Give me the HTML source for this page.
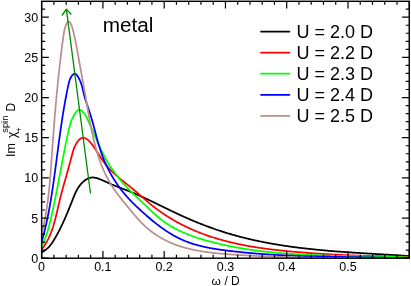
<!DOCTYPE html>
<html><head><meta charset="utf-8"><title>plot</title>
<style>
html,body{margin:0;padding:0;background:#fff;}
body{width:411px;height:286px;overflow:hidden;font-family:"Liberation Sans",sans-serif;}
svg{display:block;position:absolute;left:0;top:0;}
text{font-family:"Liberation Sans",sans-serif;fill:#000;}
</style></head><body>
<div style="position:absolute;left:0;top:0;width:411px;height:286px;will-change:transform;">
<svg width="411" height="286" viewBox="0 0 411 286">
<rect x="0" y="0" width="411" height="286" fill="#fff"/>

<defs><clipPath id="c"><rect x="41.65" y="1.3" width="367.6" height="256.9"/></clipPath></defs>
<g clip-path="url(#c)" fill="none" stroke-width="1.75" stroke-linejoin="round" stroke-linecap="butt">
<path d="M41.64,252.30 L42.36,251.95 L43.06,251.58 L43.74,251.19 L44.39,250.77 L45.03,250.34 L45.65,249.88 L46.25,249.41 L46.83,248.91 L47.39,248.40 L47.94,247.88 L48.48,247.34 L49.00,246.78 L49.51,246.21 L50.00,245.63 L50.48,245.03 L50.95,244.43 L51.41,243.81 L51.86,243.19 L52.30,242.55 L52.73,241.91 L53.15,241.26 L53.56,240.61 L53.97,239.95 L54.37,239.29 L54.77,238.62 L55.16,237.95 L55.55,237.28 L55.94,236.60 L56.32,235.93 L56.70,235.25 L57.07,234.58 L57.44,233.90 L57.81,233.22 L58.17,232.54 L58.54,231.85 L58.89,231.17 L59.25,230.48 L59.60,229.79 L59.95,229.11 L60.30,228.42 L60.64,227.72 L60.98,227.03 L61.32,226.34 L61.65,225.64 L61.98,224.95 L62.31,224.25 L62.64,223.55 L62.96,222.85 L63.29,222.15 L63.61,221.45 L63.92,220.75 L64.24,220.05 L64.55,219.34 L64.86,218.64 L65.17,217.93 L65.48,217.23 L65.79,216.52 L66.09,215.81 L66.39,215.11 L66.69,214.40 L66.99,213.69 L67.29,212.98 L67.58,212.27 L67.88,211.55 L68.17,210.84 L68.46,210.13 L68.75,209.42 L69.04,208.70 L69.33,207.99 L69.62,207.28 L69.90,206.56 L70.19,205.85 L70.47,205.13 L70.76,204.42 L71.04,203.70 L71.32,202.98 L71.60,202.27 L71.89,201.55 L72.17,200.84 L72.45,200.12 L72.73,199.40 L73.01,198.69 L73.29,197.97 L73.57,197.26 L73.86,196.55 L74.15,195.84 L74.45,195.13 L74.75,194.42 L75.06,193.72 L75.38,193.02 L75.71,192.32 L76.04,191.63 L76.39,190.95 L76.75,190.26 L77.12,189.59 L77.51,188.92 L77.90,188.25 L78.32,187.59 L78.75,186.94 L79.20,186.30 L79.66,185.66 L80.15,185.04 L80.65,184.42 L81.18,183.81 L81.72,183.21 L82.28,182.63 L82.86,182.07 L83.46,181.53 L84.07,181.01 L84.69,180.52 L85.33,180.05 L85.98,179.61 L86.65,179.21 L87.33,178.84 L88.01,178.52 L88.71,178.23 L89.42,177.98 L90.14,177.78 L90.86,177.62 L91.59,177.52 L92.33,177.47 L93.07,177.47 L93.82,177.52 L94.57,177.62 L95.32,177.77 L96.08,177.94 L96.83,178.15 L97.59,178.39 L98.34,178.65 L99.08,178.92 L99.82,179.21 L100.56,179.51 L101.29,179.80 L102.02,180.11 L102.74,180.42 L103.45,180.73 L104.16,181.04 L104.87,181.36 L105.58,181.67 L106.28,181.99 L106.99,182.31 L107.69,182.62 L108.39,182.94 L109.09,183.26 L109.79,183.57 L110.49,183.88 L111.20,184.18 L111.91,184.49 L112.62,184.78 L113.33,185.08 L114.04,185.37 L114.75,185.66 L115.47,185.95 L116.19,186.23 L116.90,186.52 L117.62,186.80 L118.34,187.08 L119.06,187.35 L119.78,187.63 L120.51,187.91 L121.23,188.18 L121.95,188.46 L122.67,188.74 L123.39,189.01 L124.12,189.29 L124.84,189.57 L125.56,189.84 L126.28,190.12 L127.00,190.40 L127.72,190.69 L128.43,190.97 L129.15,191.26 L129.87,191.55 L130.58,191.84 L131.29,192.13 L132.01,192.43 L132.72,192.73 L133.43,193.02 L134.14,193.33 L134.85,193.63 L135.55,193.93 L136.26,194.24 L136.97,194.55 L137.67,194.86 L138.38,195.17 L139.08,195.48 L139.78,195.79 L140.49,196.11 L141.19,196.43 L141.89,196.75 L142.59,197.07 L143.29,197.39 L143.99,197.71 L144.69,198.03 L145.38,198.36 L146.08,198.68 L146.78,199.01 L147.47,199.34 L148.17,199.66 L148.86,199.99 L149.56,200.32 L150.25,200.66 L150.95,200.99 L151.64,201.32 L152.34,201.65 L153.03,201.99 L153.72,202.32 L154.42,202.66 L155.11,202.99 L155.80,203.33 L156.49,203.66 L157.18,204.00 L157.88,204.34 L158.57,204.67 L159.26,205.01 L159.95,205.35 L160.64,205.69 L161.34,206.03 L162.03,206.36 L162.72,206.70 L163.41,207.04 L164.10,207.38 L164.80,207.71 L165.49,208.05 L166.18,208.39 L166.87,208.73 L167.57,209.06 L168.26,209.40 L168.95,209.73 L169.65,210.07 L170.34,210.41 L171.03,210.74 L171.73,211.07 L172.42,211.41 L173.12,211.74 L173.82,212.07 L174.51,212.40 L175.21,212.73 L175.91,213.06 L176.60,213.39 L177.30,213.72 L178.00,214.04 L178.70,214.37 L179.40,214.69 L180.10,215.02 L180.80,215.34 L181.51,215.66 L182.21,215.98 L182.91,216.30 L183.62,216.61 L184.32,216.93 L185.03,217.24 L185.73,217.56 L186.44,217.87 L187.15,218.18 L187.85,218.49 L188.56,218.80 L189.27,219.11 L189.98,219.41 L190.69,219.72 L191.40,220.02 L192.12,220.32 L192.83,220.62 L193.54,220.92 L194.25,221.22 L194.97,221.51 L195.68,221.81 L196.40,222.10 L197.11,222.40 L197.83,222.69 L198.55,222.98 L199.27,223.26 L199.98,223.55 L200.70,223.84 L201.42,224.12 L202.14,224.40 L202.86,224.68 L203.58,224.96 L204.30,225.24 L205.03,225.51 L205.75,225.79 L206.47,226.06 L207.20,226.33 L207.92,226.60 L208.64,226.87 L209.37,227.14 L210.09,227.40 L210.82,227.67 L211.55,227.93 L212.27,228.19 L213.00,228.45 L213.73,228.71 L214.46,228.96 L215.19,229.22 L215.92,229.47 L216.65,229.72 L217.38,229.97 L218.11,230.21 L218.84,230.46 L219.57,230.70 L220.31,230.95 L221.04,231.19 L221.77,231.42 L222.51,231.66 L223.24,231.90 L223.98,232.13 L224.71,232.36 L225.45,232.59 L226.18,232.82 L226.92,233.04 L227.66,233.27 L228.39,233.49 L229.13,233.71 L229.87,233.93 L230.61,234.15 L231.35,234.36 L232.09,234.58 L232.83,234.79 L233.57,235.00 L234.31,235.21 L235.05,235.41 L235.79,235.62 L236.53,235.82 L237.27,236.03 L238.02,236.23 L238.76,236.42 L239.50,236.62 L240.25,236.82 L240.99,237.01 L241.74,237.20 L242.48,237.39 L243.23,237.58 L243.97,237.77 L244.72,237.96 L245.46,238.14 L246.21,238.32 L246.96,238.50 L247.71,238.68 L248.45,238.86 L249.20,239.04 L249.95,239.21 L250.70,239.39 L251.45,239.56 L252.20,239.73 L252.95,239.90 L253.70,240.06 L254.45,240.23 L255.20,240.40 L255.95,240.56 L256.70,240.72 L257.45,240.88 L258.21,241.04 L258.96,241.20 L259.71,241.35 L260.47,241.51 L261.22,241.66 L261.97,241.81 L262.73,241.96 L263.48,242.11 L264.24,242.26 L264.99,242.41 L265.75,242.55 L266.50,242.70 L267.26,242.84 L268.01,242.98 L268.77,243.12 L269.53,243.26 L270.28,243.40 L271.04,243.53 L271.80,243.67 L272.56,243.80 L273.32,243.93 L274.07,244.06 L274.83,244.19 L275.59,244.32 L276.35,244.45 L277.11,244.58 L277.87,244.70 L278.63,244.83 L279.39,244.95 L280.15,245.07 L280.91,245.19 L281.67,245.31 L282.43,245.43 L283.19,245.54 L283.96,245.66 L284.72,245.77 L285.48,245.89 L286.24,246.00 L287.00,246.11 L287.77,246.22 L288.53,246.33 L289.29,246.44 L290.06,246.55 L290.82,246.65 L291.58,246.76 L292.35,246.86 L293.11,246.97 L293.88,247.07 L294.64,247.17 L295.40,247.27 L296.17,247.37 L296.94,247.47 L297.70,247.56 L298.47,247.66 L299.23,247.76 L300.00,247.85 L300.76,247.94 L301.53,248.04 L302.30,248.13 L303.06,248.22 L303.83,248.31 L304.60,248.40 L305.36,248.48 L306.13,248.57 L306.90,248.66 L307.66,248.74 L308.43,248.83 L309.20,248.91 L309.97,248.99 L310.74,249.08 L311.50,249.16 L312.27,249.24 L313.04,249.32 L313.81,249.40 L314.58,249.48 L315.35,249.55 L316.12,249.63 L316.88,249.71 L317.65,249.78 L318.42,249.86 L319.19,249.93 L319.96,250.00 L320.73,250.07 L321.50,250.15 L322.27,250.22 L323.04,250.29 L323.81,250.36 L324.58,250.43 L325.35,250.49 L326.12,250.56 L326.89,250.63 L327.66,250.70 L328.43,250.76 L329.20,250.83 L329.97,250.89 L330.74,250.95 L331.52,251.02 L332.29,251.08 L333.06,251.14 L333.83,251.21 L334.60,251.27 L335.37,251.33 L336.14,251.39 L336.91,251.45 L337.68,251.51 L338.46,251.56 L339.23,251.62 L340.00,251.68 L340.77,251.74 L341.54,251.79 L342.31,251.85 L343.08,251.91 L343.86,251.96 L344.63,252.02 L345.40,252.07 L346.17,252.13 L346.94,252.18 L347.71,252.23 L348.48,252.29 L349.26,252.34 L350.03,252.39 L350.80,252.44 L351.57,252.49 L352.34,252.54 L353.11,252.60 L353.89,252.65 L354.66,252.70 L355.43,252.75 L356.20,252.80 L356.97,252.84 L357.74,252.89 L358.52,252.94 L359.29,252.99 L360.06,253.04 L360.83,253.09 L361.60,253.13 L362.37,253.18 L363.14,253.23 L363.91,253.28 L364.69,253.32 L365.46,253.37 L366.23,253.42 L367.00,253.46 L367.77,253.51 L368.54,253.55 L369.31,253.60 L370.08,253.65 L370.85,253.69 L371.62,253.74 L372.40,253.78 L373.17,253.83 L373.94,253.87 L374.71,253.92 L375.48,253.96 L376.25,254.01 L377.02,254.05 L377.79,254.10 L378.56,254.14 L379.33,254.19 L380.10,254.23 L380.87,254.28 L381.64,254.32 L382.41,254.37 L383.17,254.41 L383.94,254.45 L384.71,254.50 L385.48,254.54 L386.25,254.59 L387.02,254.63 L387.79,254.68 L388.56,254.72 L389.33,254.77 L390.09,254.81 L390.86,254.86 L391.63,254.90 L392.40,254.95 L393.16,255.00 L393.93,255.04 L394.70,255.09 L395.47,255.13 L396.23,255.18 L397.00,255.23 L397.77,255.27 L398.53,255.32 L399.30,255.37 L400.07,255.41 L400.83,255.46 L401.60,255.51 L402.36,255.55 L403.13,255.60 L403.90,255.65 L404.66,255.70 L405.43,255.75 L406.19,255.80 L406.96,255.85 L407.72,255.90 L408.48,255.95 L409.25,256.00" stroke="#000000"/>
<path d="M41.66,249.41 L42.14,248.80 L42.61,248.18 L43.07,247.55 L43.52,246.92 L43.96,246.29 L44.39,245.65 L44.81,245.00 L45.22,244.36 L45.63,243.70 L46.02,243.05 L46.40,242.39 L46.78,241.72 L47.15,241.05 L47.51,240.38 L47.86,239.70 L48.20,239.02 L48.54,238.34 L48.86,237.65 L49.19,236.96 L49.50,236.26 L49.80,235.57 L50.10,234.87 L50.40,234.16 L50.68,233.45 L50.96,232.74 L51.24,232.03 L51.51,231.31 L51.77,230.59 L52.03,229.87 L52.28,229.15 L52.52,228.42 L52.77,227.69 L53.00,226.96 L53.23,226.23 L53.46,225.49 L53.68,224.75 L53.90,224.02 L54.12,223.27 L54.33,222.53 L54.54,221.79 L54.74,221.04 L54.94,220.29 L55.14,219.54 L55.34,218.79 L55.53,218.04 L55.72,217.28 L55.91,216.53 L56.09,215.77 L56.28,215.02 L56.46,214.26 L56.64,213.50 L56.82,212.74 L57.00,211.98 L57.17,211.22 L57.35,210.46 L57.52,209.70 L57.70,208.94 L57.87,208.18 L58.05,207.42 L58.22,206.66 L58.40,205.90 L58.57,205.14 L58.75,204.37 L58.92,203.61 L59.10,202.85 L59.28,202.09 L59.46,201.34 L59.64,200.58 L59.82,199.82 L60.01,199.06 L60.19,198.31 L60.38,197.55 L60.57,196.80 L60.76,196.05 L60.96,195.29 L61.15,194.54 L61.35,193.79 L61.54,193.04 L61.74,192.29 L61.94,191.54 L62.14,190.79 L62.34,190.04 L62.55,189.30 L62.75,188.55 L62.95,187.80 L63.16,187.06 L63.37,186.31 L63.57,185.57 L63.78,184.82 L63.99,184.08 L64.20,183.34 L64.41,182.59 L64.62,181.85 L64.83,181.11 L65.04,180.37 L65.25,179.63 L65.46,178.88 L65.67,178.14 L65.88,177.40 L66.09,176.66 L66.30,175.92 L66.51,175.18 L66.72,174.44 L66.93,173.70 L67.14,172.96 L67.35,172.22 L67.56,171.48 L67.77,170.75 L67.98,170.01 L68.18,169.27 L68.39,168.53 L68.60,167.79 L68.80,167.05 L69.00,166.31 L69.21,165.57 L69.41,164.83 L69.61,164.09 L69.81,163.35 L70.01,162.61 L70.21,161.87 L70.40,161.13 L70.60,160.39 L70.79,159.65 L70.98,158.91 L71.17,158.17 L71.36,157.43 L71.55,156.69 L71.74,155.95 L71.92,155.21 L72.12,154.47 L72.31,153.73 L72.52,152.99 L72.73,152.26 L72.94,151.52 L73.17,150.79 L73.41,150.06 L73.66,149.34 L73.92,148.61 L74.20,147.89 L74.49,147.18 L74.80,146.46 L75.13,145.76 L75.48,145.05 L75.85,144.35 L76.25,143.66 L76.67,142.97 L77.11,142.29 L77.58,141.61 L78.07,140.96 L78.59,140.34 L79.14,139.76 L79.71,139.23 L80.31,138.77 L80.93,138.39 L81.58,138.10 L82.26,137.91 L82.96,137.82 L83.67,137.85 L84.40,137.99 L85.12,138.22 L85.83,138.54 L86.51,138.93 L87.18,139.39 L87.82,139.90 L88.43,140.45 L89.03,141.01 L89.59,141.58 L90.13,142.16 L90.64,142.75 L91.14,143.34 L91.62,143.93 L92.08,144.54 L92.54,145.15 L92.99,145.76 L93.43,146.38 L93.86,147.01 L94.30,147.64 L94.73,148.28 L95.16,148.92 L95.58,149.57 L96.00,150.21 L96.42,150.87 L96.84,151.52 L97.26,152.17 L97.68,152.83 L98.10,153.49 L98.52,154.15 L98.94,154.81 L99.36,155.46 L99.78,156.12 L100.20,156.78 L100.63,157.43 L101.05,158.08 L101.49,158.73 L101.92,159.38 L102.36,160.02 L102.80,160.66 L103.25,161.29 L103.70,161.92 L104.16,162.54 L104.63,163.16 L105.10,163.77 L105.57,164.37 L106.06,164.97 L106.55,165.56 L107.04,166.15 L107.54,166.73 L108.05,167.30 L108.56,167.87 L109.08,168.43 L109.60,168.99 L110.13,169.54 L110.66,170.09 L111.20,170.64 L111.74,171.18 L112.28,171.71 L112.83,172.24 L113.39,172.77 L113.94,173.29 L114.50,173.81 L115.07,174.33 L115.64,174.84 L116.21,175.35 L116.78,175.86 L117.36,176.36 L117.94,176.86 L118.52,177.36 L119.10,177.86 L119.69,178.35 L120.28,178.85 L120.87,179.34 L121.46,179.83 L122.06,180.32 L122.65,180.80 L123.25,181.29 L123.85,181.77 L124.45,182.26 L125.05,182.74 L125.65,183.22 L126.25,183.70 L126.85,184.19 L127.45,184.67 L128.06,185.15 L128.66,185.63 L129.26,186.12 L129.86,186.60 L130.46,187.09 L131.06,187.57 L131.66,188.06 L132.26,188.55 L132.86,189.04 L133.45,189.53 L134.05,190.03 L134.64,190.52 L135.23,191.02 L135.82,191.52 L136.41,192.02 L137.00,192.52 L137.58,193.03 L138.17,193.53 L138.75,194.04 L139.33,194.55 L139.92,195.05 L140.50,195.56 L141.08,196.07 L141.67,196.58 L142.25,197.09 L142.83,197.60 L143.41,198.10 L143.99,198.61 L144.58,199.12 L145.16,199.62 L145.75,200.13 L146.33,200.63 L146.92,201.14 L147.51,201.64 L148.09,202.14 L148.68,202.64 L149.28,203.13 L149.87,203.62 L150.46,204.12 L151.06,204.61 L151.66,205.09 L152.26,205.58 L152.86,206.06 L153.47,206.54 L154.08,207.01 L154.69,207.48 L155.30,207.95 L155.91,208.42 L156.53,208.88 L157.15,209.34 L157.77,209.80 L158.39,210.25 L159.02,210.71 L159.64,211.16 L160.27,211.60 L160.90,212.05 L161.53,212.49 L162.17,212.92 L162.80,213.36 L163.44,213.79 L164.08,214.22 L164.73,214.65 L165.37,215.07 L166.02,215.49 L166.66,215.91 L167.31,216.32 L167.96,216.73 L168.62,217.14 L169.27,217.55 L169.93,217.95 L170.59,218.35 L171.25,218.75 L171.91,219.14 L172.57,219.54 L173.24,219.93 L173.91,220.31 L174.57,220.70 L175.24,221.08 L175.92,221.45 L176.59,221.83 L177.26,222.20 L177.94,222.57 L178.62,222.94 L179.30,223.30 L179.98,223.66 L180.66,224.02 L181.35,224.38 L182.03,224.73 L182.72,225.08 L183.40,225.42 L184.09,225.77 L184.78,226.11 L185.48,226.45 L186.17,226.78 L186.86,227.12 L187.56,227.45 L188.26,227.77 L188.96,228.10 L189.66,228.42 L190.36,228.74 L191.06,229.05 L191.76,229.37 L192.47,229.68 L193.17,229.99 L193.88,230.29 L194.59,230.59 L195.30,230.89 L196.01,231.19 L196.72,231.48 L197.43,231.78 L198.14,232.06 L198.86,232.35 L199.57,232.63 L200.29,232.91 L201.00,233.19 L201.72,233.47 L202.44,233.74 L203.16,234.01 L203.88,234.27 L204.60,234.54 L205.32,234.80 L206.05,235.06 L206.77,235.31 L207.50,235.57 L208.22,235.82 L208.95,236.07 L209.68,236.31 L210.40,236.56 L211.13,236.80 L211.86,237.04 L212.59,237.27 L213.33,237.51 L214.06,237.74 L214.79,237.96 L215.53,238.19 L216.26,238.42 L217.00,238.64 L217.73,238.86 L218.47,239.07 L219.21,239.29 L219.95,239.50 L220.69,239.71 L221.43,239.92 L222.17,240.12 L222.91,240.33 L223.65,240.53 L224.39,240.73 L225.14,240.92 L225.88,241.12 L226.63,241.31 L227.37,241.50 L228.12,241.69 L228.86,241.87 L229.61,242.06 L230.36,242.24 L231.11,242.42 L231.86,242.60 L232.61,242.77 L233.36,242.94 L234.11,243.12 L234.86,243.29 L235.61,243.45 L236.37,243.62 L237.12,243.78 L237.87,243.95 L238.63,244.11 L239.38,244.26 L240.14,244.42 L240.89,244.57 L241.65,244.73 L242.41,244.88 L243.16,245.03 L243.92,245.17 L244.68,245.32 L245.44,245.46 L246.20,245.61 L246.96,245.75 L247.72,245.89 L248.48,246.02 L249.24,246.16 L250.00,246.29 L250.76,246.42 L251.53,246.55 L252.29,246.68 L253.05,246.81 L253.81,246.94 L254.58,247.06 L255.34,247.18 L256.11,247.30 L256.87,247.42 L257.64,247.54 L258.40,247.66 L259.17,247.78 L259.93,247.89 L260.70,248.00 L261.47,248.11 L262.23,248.22 L263.00,248.33 L263.77,248.44 L264.53,248.54 L265.30,248.65 L266.07,248.75 L266.84,248.85 L267.61,248.95 L268.38,249.05 L269.14,249.15 L269.91,249.25 L270.68,249.35 L271.45,249.44 L272.22,249.53 L272.99,249.63 L273.76,249.72 L274.53,249.81 L275.30,249.90 L276.07,249.98 L276.84,250.07 L277.61,250.16 L278.38,250.24 L279.16,250.33 L279.93,250.41 L280.70,250.49 L281.47,250.57 L282.24,250.65 L283.01,250.73 L283.78,250.81 L284.55,250.89 L285.32,250.96 L286.10,251.04 L286.87,251.11 L287.64,251.19 L288.41,251.26 L289.18,251.33 L289.95,251.41 L290.72,251.48 L291.49,251.55 L292.27,251.62 L293.04,251.68 L293.81,251.75 L294.58,251.82 L295.35,251.89 L296.12,251.95 L296.89,252.02 L297.66,252.08 L298.43,252.15 L299.20,252.21 L299.97,252.27 L300.74,252.34 L301.51,252.40 L302.28,252.46 L303.05,252.52 L303.82,252.58 L304.59,252.64 L305.36,252.70 L306.13,252.76 L306.90,252.82 L307.67,252.87 L308.44,252.93 L309.21,252.99 L309.98,253.04 L310.75,253.10 L311.52,253.16 L312.28,253.21 L313.05,253.26 L313.82,253.32 L314.59,253.37 L315.36,253.42 L316.12,253.48 L316.89,253.53 L317.66,253.58 L318.43,253.63 L319.20,253.68 L319.96,253.73 L320.73,253.78 L321.50,253.83 L322.27,253.88 L323.03,253.92 L323.80,253.97 L324.57,254.02 L325.34,254.06 L326.10,254.11 L326.87,254.15 L327.64,254.20 L328.41,254.24 L329.17,254.29 L329.94,254.33 L330.71,254.37 L331.47,254.42 L332.24,254.46 L333.01,254.50 L333.77,254.54 L334.54,254.58 L335.31,254.62 L336.08,254.66 L336.84,254.70 L337.61,254.74 L338.38,254.78 L339.14,254.82 L339.91,254.85 L340.68,254.89 L341.44,254.93 L342.21,254.96 L342.98,255.00 L343.74,255.03 L344.51,255.07 L345.28,255.10 L346.05,255.14 L346.81,255.17 L347.58,255.20 L348.35,255.24 L349.11,255.27 L349.88,255.30 L350.65,255.33 L351.41,255.36 L352.18,255.39 L352.95,255.42 L353.72,255.45 L354.48,255.48 L355.25,255.51 L356.02,255.54 L356.79,255.57 L357.55,255.59 L358.32,255.62 L359.09,255.65 L359.86,255.67 L360.62,255.70 L361.39,255.73 L362.16,255.75 L362.93,255.78 L363.70,255.80 L364.46,255.82 L365.23,255.85 L366.00,255.87 L366.77,255.89 L367.54,255.92 L368.31,255.94 L369.08,255.96 L369.84,255.98 L370.61,256.00 L371.38,256.02 L372.15,256.04 L372.92,256.06 L373.69,256.08 L374.46,256.10 L375.23,256.12 L376.00,256.14 L376.77,256.16 L377.54,256.17 L378.31,256.19 L379.08,256.21 L379.85,256.22 L380.62,256.24 L381.39,256.25 L382.16,256.27 L382.93,256.29 L383.70,256.30 L384.48,256.31 L385.25,256.33 L386.02,256.34 L386.79,256.35 L387.56,256.37 L388.33,256.38 L389.11,256.39 L389.88,256.40 L390.65,256.42 L391.42,256.43 L392.20,256.44 L392.97,256.45 L393.74,256.46 L394.52,256.47 L395.29,256.48 L396.06,256.49 L396.84,256.50 L397.61,256.51 L398.39,256.51 L399.16,256.52 L399.94,256.53 L400.71,256.54 L401.49,256.54 L402.26,256.55 L403.04,256.56 L403.81,256.56 L404.59,256.57 L405.37,256.57 L406.14,256.58 L406.92,256.58 L407.70,256.59 L408.47,256.59 L409.25,256.60" stroke="#ff0000"/>
<path d="M41.66,246.80 L41.98,246.10 L42.30,245.40 L42.62,244.69 L42.93,243.99 L43.23,243.28 L43.53,242.56 L43.82,241.85 L44.11,241.14 L44.39,240.42 L44.66,239.70 L44.94,238.98 L45.20,238.26 L45.46,237.53 L45.72,236.81 L45.97,236.08 L46.22,235.35 L46.47,234.62 L46.71,233.89 L46.94,233.16 L47.17,232.42 L47.40,231.69 L47.63,230.95 L47.85,230.22 L48.07,229.48 L48.28,228.74 L48.49,227.99 L48.70,227.25 L48.90,226.51 L49.10,225.77 L49.30,225.02 L49.50,224.27 L49.69,223.53 L49.88,222.78 L50.07,222.03 L50.25,221.28 L50.44,220.53 L50.62,219.78 L50.80,219.03 L50.97,218.28 L51.15,217.53 L51.32,216.77 L51.50,216.02 L51.67,215.27 L51.84,214.51 L52.00,213.76 L52.17,213.01 L52.34,212.25 L52.50,211.50 L52.67,210.74 L52.83,209.99 L52.99,209.23 L53.16,208.47 L53.32,207.72 L53.48,206.96 L53.64,206.21 L53.80,205.45 L53.95,204.70 L54.11,203.94 L54.27,203.18 L54.42,202.43 L54.58,201.67 L54.74,200.91 L54.89,200.16 L55.04,199.40 L55.20,198.64 L55.35,197.89 L55.50,197.13 L55.65,196.37 L55.80,195.61 L55.95,194.86 L56.10,194.10 L56.25,193.34 L56.40,192.58 L56.55,191.83 L56.70,191.07 L56.84,190.31 L56.99,189.55 L57.14,188.79 L57.28,188.04 L57.43,187.28 L57.58,186.52 L57.72,185.76 L57.87,185.00 L58.01,184.24 L58.16,183.49 L58.30,182.73 L58.44,181.97 L58.59,181.21 L58.73,180.45 L58.87,179.70 L59.02,178.94 L59.16,178.18 L59.30,177.42 L59.45,176.66 L59.59,175.90 L59.73,175.15 L59.87,174.39 L60.02,173.63 L60.16,172.87 L60.30,172.11 L60.44,171.36 L60.59,170.60 L60.73,169.84 L60.87,169.08 L61.01,168.32 L61.16,167.57 L61.30,166.81 L61.44,166.05 L61.59,165.29 L61.73,164.54 L61.87,163.78 L62.02,163.02 L62.16,162.27 L62.30,161.51 L62.45,160.75 L62.59,160.00 L62.74,159.24 L62.88,158.48 L63.03,157.73 L63.17,156.97 L63.32,156.21 L63.46,155.46 L63.61,154.70 L63.76,153.95 L63.90,153.19 L64.05,152.43 L64.20,151.68 L64.35,150.92 L64.50,150.17 L64.65,149.41 L64.79,148.66 L64.95,147.90 L65.10,147.15 L65.25,146.40 L65.40,145.64 L65.55,144.89 L65.70,144.13 L65.86,143.38 L66.01,142.63 L66.17,141.88 L66.32,141.12 L66.48,140.37 L66.64,139.62 L66.79,138.87 L66.95,138.11 L67.11,137.36 L67.27,136.61 L67.43,135.86 L67.59,135.11 L67.75,134.36 L67.92,133.61 L68.08,132.86 L68.25,132.11 L68.41,131.36 L68.58,130.61 L68.75,129.86 L68.92,129.11 L69.10,128.36 L69.28,127.62 L69.47,126.87 L69.67,126.13 L69.87,125.38 L70.08,124.64 L70.30,123.90 L70.53,123.17 L70.78,122.43 L71.03,121.70 L71.30,120.96 L71.58,120.24 L71.88,119.51 L72.19,118.78 L72.52,118.06 L72.86,117.34 L73.23,116.63 L73.61,115.92 L74.01,115.21 L74.43,114.50 L74.88,113.80 L75.34,113.10 L75.83,112.41 L76.35,111.76 L76.88,111.17 L77.43,110.66 L78.01,110.26 L78.60,109.99 L79.22,109.88 L79.84,109.93 L80.48,110.14 L81.13,110.49 L81.76,110.94 L82.39,111.48 L83.00,112.09 L83.57,112.74 L84.12,113.41 L84.62,114.09 L85.09,114.77 L85.52,115.46 L85.93,116.14 L86.32,116.83 L86.68,117.53 L87.03,118.22 L87.36,118.92 L87.69,119.62 L88.01,120.32 L88.33,121.02 L88.65,121.72 L88.96,122.42 L89.28,123.12 L89.59,123.83 L89.91,124.53 L90.22,125.24 L90.53,125.94 L90.84,126.64 L91.15,127.35 L91.45,128.06 L91.76,128.76 L92.07,129.47 L92.37,130.17 L92.68,130.88 L92.98,131.59 L93.29,132.29 L93.59,133.00 L93.90,133.71 L94.20,134.41 L94.51,135.12 L94.81,135.82 L95.12,136.53 L95.42,137.23 L95.73,137.94 L96.04,138.64 L96.35,139.35 L96.66,140.05 L96.97,140.75 L97.28,141.46 L97.59,142.16 L97.90,142.86 L98.22,143.56 L98.53,144.26 L98.85,144.96 L99.17,145.66 L99.49,146.35 L99.81,147.05 L100.14,147.75 L100.47,148.44 L100.80,149.13 L101.13,149.82 L101.46,150.52 L101.80,151.20 L102.14,151.89 L102.48,152.58 L102.82,153.27 L103.17,153.95 L103.52,154.63 L103.87,155.31 L104.23,155.99 L104.58,156.67 L104.95,157.35 L105.31,158.02 L105.68,158.69 L106.06,159.36 L106.43,160.03 L106.81,160.70 L107.20,161.36 L107.58,162.03 L107.98,162.69 L108.37,163.35 L108.77,164.01 L109.18,164.66 L109.59,165.31 L110.00,165.96 L110.42,166.61 L110.85,167.26 L111.27,167.90 L111.70,168.54 L112.14,169.18 L112.58,169.82 L113.02,170.45 L113.47,171.08 L113.92,171.71 L114.38,172.34 L114.84,172.96 L115.30,173.59 L115.77,174.21 L116.24,174.82 L116.71,175.44 L117.19,176.05 L117.67,176.66 L118.15,177.27 L118.64,177.88 L119.13,178.48 L119.62,179.08 L120.12,179.68 L120.62,180.27 L121.12,180.87 L121.62,181.46 L122.13,182.05 L122.64,182.63 L123.15,183.22 L123.67,183.80 L124.18,184.37 L124.70,184.95 L125.22,185.52 L125.75,186.09 L126.27,186.66 L126.80,187.23 L127.33,187.79 L127.86,188.35 L128.39,188.91 L128.93,189.47 L129.47,190.02 L130.00,190.57 L130.54,191.12 L131.09,191.66 L131.63,192.20 L132.17,192.74 L132.72,193.28 L133.26,193.82 L133.81,194.35 L134.36,194.88 L134.91,195.41 L135.46,195.94 L136.01,196.46 L136.57,196.99 L137.12,197.51 L137.67,198.03 L138.23,198.56 L138.78,199.08 L139.34,199.60 L139.90,200.12 L140.45,200.65 L141.01,201.17 L141.57,201.69 L142.13,202.22 L142.68,202.74 L143.24,203.27 L143.80,203.79 L144.36,204.32 L144.92,204.85 L145.48,205.39 L146.03,205.92 L146.59,206.46 L147.15,206.99 L147.71,207.53 L148.27,208.07 L148.83,208.61 L149.39,209.15 L149.95,209.68 L150.52,210.22 L151.08,210.76 L151.65,211.29 L152.22,211.83 L152.79,212.36 L153.36,212.89 L153.93,213.42 L154.50,213.95 L155.08,214.47 L155.66,214.99 L156.24,215.50 L156.83,216.02 L157.41,216.53 L158.01,217.03 L158.60,217.53 L159.20,218.02 L159.79,218.51 L160.40,219.00 L161.00,219.48 L161.62,219.95 L162.23,220.42 L162.85,220.88 L163.47,221.33 L164.09,221.78 L164.72,222.22 L165.35,222.66 L165.99,223.10 L166.63,223.52 L167.27,223.94 L167.91,224.36 L168.56,224.77 L169.21,225.18 L169.86,225.58 L170.52,225.97 L171.18,226.36 L171.84,226.75 L172.51,227.13 L173.18,227.51 L173.85,227.88 L174.52,228.24 L175.20,228.60 L175.88,228.96 L176.56,229.31 L177.24,229.66 L177.93,230.00 L178.62,230.34 L179.31,230.67 L180.01,231.00 L180.70,231.33 L181.40,231.65 L182.10,231.97 L182.80,232.28 L183.51,232.59 L184.21,232.89 L184.92,233.20 L185.63,233.49 L186.35,233.79 L187.06,234.07 L187.78,234.36 L188.50,234.64 L189.22,234.92 L189.94,235.20 L190.66,235.47 L191.38,235.74 L192.11,236.00 L192.84,236.26 L193.57,236.52 L194.30,236.78 L195.03,237.03 L195.76,237.28 L196.50,237.52 L197.23,237.77 L197.97,238.01 L198.70,238.24 L199.44,238.48 L200.18,238.71 L200.92,238.94 L201.66,239.16 L202.41,239.39 L203.15,239.61 L203.89,239.83 L204.64,240.04 L205.38,240.26 L206.13,240.47 L206.87,240.68 L207.62,240.89 L208.37,241.09 L209.11,241.30 L209.86,241.50 L210.61,241.70 L211.36,241.89 L212.11,242.09 L212.86,242.28 L213.61,242.47 L214.36,242.66 L215.11,242.85 L215.86,243.04 L216.61,243.22 L217.36,243.41 L218.11,243.59 L218.86,243.77 L219.61,243.94 L220.36,244.12 L221.11,244.29 L221.87,244.46 L222.62,244.63 L223.37,244.80 L224.13,244.97 L224.88,245.13 L225.63,245.30 L226.39,245.46 L227.14,245.62 L227.90,245.78 L228.65,245.93 L229.40,246.09 L230.16,246.24 L230.92,246.39 L231.67,246.54 L232.43,246.69 L233.18,246.84 L233.94,246.98 L234.70,247.12 L235.45,247.27 L236.21,247.41 L236.97,247.54 L237.73,247.68 L238.48,247.82 L239.24,247.95 L240.00,248.08 L240.76,248.21 L241.52,248.34 L242.28,248.47 L243.03,248.60 L243.79,248.72 L244.55,248.85 L245.31,248.97 L246.07,249.09 L246.83,249.21 L247.59,249.32 L248.36,249.44 L249.12,249.56 L249.88,249.67 L250.64,249.78 L251.40,249.89 L252.16,250.00 L252.92,250.11 L253.69,250.21 L254.45,250.32 L255.21,250.42 L255.97,250.52 L256.74,250.63 L257.50,250.73 L258.26,250.82 L259.03,250.92 L259.79,251.02 L260.55,251.11 L261.32,251.20 L262.08,251.30 L262.84,251.39 L263.61,251.48 L264.37,251.57 L265.14,251.65 L265.90,251.74 L266.67,251.82 L267.43,251.91 L268.20,251.99 L268.97,252.07 L269.73,252.15 L270.50,252.23 L271.26,252.31 L272.03,252.38 L272.80,252.46 L273.56,252.53 L274.33,252.61 L275.10,252.68 L275.86,252.75 L276.63,252.82 L277.40,252.89 L278.16,252.96 L278.93,253.03 L279.70,253.09 L280.47,253.16 L281.24,253.22 L282.00,253.28 L282.77,253.34 L283.54,253.41 L284.31,253.47 L285.08,253.52 L285.85,253.58 L286.62,253.64 L287.38,253.70 L288.15,253.75 L288.92,253.81 L289.69,253.86 L290.46,253.91 L291.23,253.96 L292.00,254.01 L292.77,254.06 L293.54,254.11 L294.31,254.16 L295.08,254.21 L295.85,254.26 L296.62,254.30 L297.39,254.35 L298.16,254.39 L298.93,254.43 L299.70,254.48 L300.47,254.52 L301.24,254.56 L302.02,254.60 L302.79,254.64 L303.56,254.68 L304.33,254.72 L305.10,254.75 L305.87,254.79 L306.64,254.83 L307.41,254.86 L308.19,254.90 L308.96,254.93 L309.73,254.96 L310.50,255.00 L311.27,255.03 L312.05,255.06 L312.82,255.09 L313.59,255.12 L314.36,255.15 L315.13,255.18 L315.91,255.21 L316.68,255.24 L317.45,255.26 L318.22,255.29 L319.00,255.32 L319.77,255.34 L320.54,255.37 L321.31,255.39 L322.09,255.42 L322.86,255.44 L323.63,255.47 L324.40,255.49 L325.18,255.51 L325.95,255.53 L326.72,255.56 L327.50,255.58 L328.27,255.60 L329.04,255.62 L329.81,255.64 L330.59,255.66 L331.36,255.68 L332.13,255.70 L332.91,255.71 L333.68,255.73 L334.45,255.75 L335.23,255.77 L336.00,255.78 L336.77,255.80 L337.55,255.82 L338.32,255.83 L339.09,255.85 L339.86,255.87 L340.64,255.88 L341.41,255.90 L342.18,255.91 L342.96,255.93 L343.73,255.94 L344.50,255.96 L345.28,255.97 L346.05,255.98 L346.82,256.00 L347.60,256.01 L348.37,256.02 L349.14,256.04 L349.92,256.05 L350.69,256.06 L351.46,256.08 L352.23,256.09 L353.01,256.10 L353.78,256.11 L354.55,256.13 L355.33,256.14 L356.10,256.15 L356.87,256.16 L357.64,256.18 L358.42,256.19 L359.19,256.20 L359.96,256.21 L360.74,256.22 L361.51,256.24 L362.28,256.25 L363.05,256.26 L363.83,256.27 L364.60,256.29 L365.37,256.30 L366.14,256.31 L366.91,256.32 L367.69,256.34 L368.46,256.35 L369.23,256.36 L370.00,256.37 L370.77,256.39 L371.55,256.40 L372.32,256.41 L373.09,256.43 L373.86,256.44 L374.63,256.45 L375.40,256.47 L376.18,256.48 L376.95,256.50 L377.72,256.51 L378.49,256.52 L379.26,256.54 L380.03,256.56 L380.80,256.57 L381.57,256.59 L382.34,256.60 L383.11,256.62 L383.89,256.63 L384.66,256.65 L385.43,256.67 L386.20,256.69 L386.97,256.70 L387.74,256.72 L388.51,256.74 L389.28,256.76 L390.05,256.78 L390.82,256.80 L391.58,256.82 L392.35,256.84 L393.12,256.86 L393.89,256.88 L394.66,256.90 L395.43,256.92 L396.20,256.95 L396.97,256.97 L397.74,256.99 L398.50,257.02 L399.27,257.04 L400.04,257.07 L400.81,257.09 L401.58,257.12 L402.35,257.14 L403.11,257.17 L403.88,257.20 L404.65,257.22 L405.41,257.25 L406.18,257.28 L406.95,257.31 L407.72,257.34 L408.48,257.37 L409.25,257.40" stroke="#00ff00"/>
<path d="M41.66,241.70 L41.87,240.96 L42.09,240.22 L42.30,239.48 L42.51,238.74 L42.72,238.00 L42.92,237.26 L43.13,236.51 L43.33,235.77 L43.53,235.03 L43.72,234.28 L43.92,233.54 L44.11,232.79 L44.30,232.05 L44.49,231.30 L44.67,230.55 L44.86,229.80 L45.04,229.06 L45.22,228.31 L45.40,227.56 L45.58,226.81 L45.75,226.06 L45.92,225.31 L46.09,224.56 L46.26,223.81 L46.43,223.06 L46.60,222.31 L46.76,221.55 L46.92,220.80 L47.08,220.05 L47.24,219.29 L47.40,218.54 L47.55,217.79 L47.71,217.03 L47.86,216.28 L48.01,215.52 L48.16,214.77 L48.31,214.01 L48.46,213.26 L48.60,212.50 L48.75,211.74 L48.89,210.99 L49.03,210.23 L49.17,209.47 L49.31,208.71 L49.45,207.96 L49.58,207.20 L49.72,206.44 L49.85,205.68 L49.98,204.92 L50.11,204.16 L50.24,203.40 L50.37,202.64 L50.50,201.88 L50.63,201.12 L50.76,200.36 L50.88,199.60 L51.00,198.84 L51.13,198.08 L51.25,197.32 L51.37,196.56 L51.49,195.80 L51.61,195.04 L51.73,194.28 L51.85,193.52 L51.97,192.76 L52.08,191.99 L52.20,191.23 L52.32,190.47 L52.43,189.71 L52.55,188.95 L52.66,188.19 L52.77,187.42 L52.88,186.66 L53.00,185.90 L53.11,185.14 L53.22,184.37 L53.33,183.61 L53.44,182.85 L53.55,182.09 L53.65,181.32 L53.76,180.56 L53.87,179.80 L53.98,179.04 L54.08,178.27 L54.19,177.51 L54.30,176.75 L54.40,175.98 L54.51,175.22 L54.61,174.46 L54.71,173.69 L54.82,172.93 L54.92,172.17 L55.02,171.40 L55.13,170.64 L55.23,169.88 L55.33,169.11 L55.43,168.35 L55.54,167.59 L55.64,166.82 L55.74,166.06 L55.84,165.30 L55.94,164.53 L56.04,163.77 L56.14,163.01 L56.24,162.24 L56.35,161.48 L56.45,160.72 L56.55,159.95 L56.65,159.19 L56.75,158.42 L56.85,157.66 L56.95,156.90 L57.05,156.13 L57.15,155.37 L57.25,154.61 L57.35,153.84 L57.45,153.08 L57.55,152.32 L57.65,151.55 L57.75,150.79 L57.85,150.02 L57.95,149.26 L58.05,148.50 L58.15,147.73 L58.25,146.97 L58.35,146.21 L58.45,145.44 L58.56,144.68 L58.66,143.92 L58.76,143.15 L58.86,142.39 L58.96,141.63 L59.07,140.86 L59.17,140.10 L59.27,139.34 L59.38,138.57 L59.48,137.81 L59.59,137.05 L59.69,136.28 L59.80,135.52 L59.90,134.76 L60.01,134.00 L60.11,133.23 L60.22,132.47 L60.33,131.71 L60.44,130.94 L60.54,130.18 L60.65,129.42 L60.76,128.66 L60.87,127.89 L60.98,127.13 L61.09,126.37 L61.20,125.61 L61.32,124.85 L61.43,124.08 L61.54,123.32 L61.66,122.56 L61.77,121.80 L61.89,121.04 L62.00,120.28 L62.12,119.51 L62.23,118.75 L62.35,117.99 L62.47,117.23 L62.59,116.47 L62.71,115.71 L62.83,114.95 L62.95,114.19 L63.08,113.43 L63.20,112.67 L63.32,111.91 L63.45,111.15 L63.57,110.39 L63.70,109.63 L63.83,108.87 L63.96,108.11 L64.09,107.35 L64.22,106.59 L64.35,105.83 L64.48,105.07 L64.62,104.31 L64.75,103.55 L64.89,102.79 L65.02,102.03 L65.16,101.27 L65.30,100.52 L65.44,99.76 L65.58,99.00 L65.72,98.24 L65.86,97.48 L66.01,96.73 L66.15,95.97 L66.30,95.21 L66.44,94.46 L66.59,93.70 L66.74,92.94 L66.89,92.19 L67.04,91.44 L67.20,90.68 L67.35,89.93 L67.50,89.18 L67.66,88.43 L67.81,87.68 L67.97,86.93 L68.13,86.18 L68.29,85.44 L68.45,84.69 L68.61,83.95 L68.77,83.21 L68.95,82.46 L69.14,81.72 L69.35,80.98 L69.59,80.24 L69.87,79.49 L70.18,78.75 L70.54,78.00 L70.95,77.25 L71.41,76.50 L71.93,75.78 L72.47,75.11 L73.05,74.55 L73.64,74.11 L74.23,73.84 L74.82,73.76 L75.40,73.90 L75.96,74.22 L76.50,74.69 L77.02,75.29 L77.51,75.97 L77.99,76.71 L78.43,77.47 L78.84,78.22 L79.23,78.98 L79.60,79.72 L79.94,80.47 L80.25,81.21 L80.55,81.95 L80.83,82.69 L81.09,83.42 L81.33,84.15 L81.56,84.88 L81.78,85.60 L81.98,86.33 L82.17,87.05 L82.36,87.77 L82.54,88.49 L82.71,89.21 L82.88,89.93 L83.05,90.65 L83.21,91.37 L83.38,92.09 L83.55,92.82 L83.72,93.54 L83.90,94.26 L84.08,94.98 L84.27,95.71 L84.47,96.44 L84.68,97.16 L84.90,97.89 L85.12,98.63 L85.34,99.36 L85.57,100.09 L85.81,100.83 L86.05,101.56 L86.29,102.30 L86.54,103.04 L86.78,103.78 L87.04,104.52 L87.29,105.26 L87.54,106.00 L87.80,106.75 L88.05,107.49 L88.31,108.23 L88.56,108.98 L88.81,109.73 L89.06,110.47 L89.31,111.22 L89.56,111.97 L89.80,112.72 L90.04,113.47 L90.27,114.21 L90.51,114.96 L90.74,115.71 L90.96,116.47 L91.19,117.22 L91.41,117.97 L91.63,118.72 L91.84,119.47 L92.06,120.22 L92.27,120.97 L92.48,121.72 L92.69,122.48 L92.90,123.23 L93.10,123.98 L93.31,124.73 L93.51,125.48 L93.71,126.23 L93.91,126.99 L94.11,127.74 L94.31,128.49 L94.51,129.24 L94.70,129.99 L94.90,130.74 L95.10,131.49 L95.30,132.24 L95.49,132.99 L95.69,133.74 L95.89,134.48 L96.09,135.23 L96.29,135.98 L96.49,136.72 L96.69,137.47 L96.89,138.21 L97.09,138.96 L97.29,139.70 L97.50,140.44 L97.71,141.19 L97.91,141.93 L98.12,142.67 L98.34,143.41 L98.55,144.15 L98.77,144.88 L98.98,145.62 L99.21,146.35 L99.43,147.09 L99.66,147.82 L99.88,148.55 L100.12,149.28 L100.35,150.01 L100.59,150.74 L100.83,151.47 L101.08,152.19 L101.33,152.92 L101.58,153.64 L101.84,154.36 L102.10,155.08 L102.36,155.80 L102.63,156.52 L102.91,157.23 L103.19,157.95 L103.47,158.66 L103.75,159.37 L104.04,160.08 L104.34,160.79 L104.64,161.49 L104.94,162.20 L105.25,162.90 L105.56,163.60 L105.88,164.30 L106.20,164.99 L106.52,165.69 L106.85,166.38 L107.18,167.07 L107.52,167.76 L107.86,168.45 L108.21,169.13 L108.55,169.82 L108.91,170.50 L109.26,171.18 L109.63,171.85 L109.99,172.53 L110.36,173.20 L110.73,173.87 L111.11,174.54 L111.49,175.21 L111.87,175.87 L112.26,176.53 L112.66,177.19 L113.05,177.85 L113.45,178.50 L113.86,179.16 L114.27,179.81 L114.68,180.46 L115.09,181.10 L115.51,181.74 L115.94,182.39 L116.36,183.02 L116.79,183.66 L117.23,184.29 L117.67,184.92 L118.11,185.55 L118.56,186.18 L119.01,186.80 L119.46,187.42 L119.92,188.04 L120.38,188.65 L120.84,189.26 L121.31,189.87 L121.78,190.48 L122.26,191.08 L122.74,191.68 L123.22,192.28 L123.71,192.88 L124.20,193.47 L124.69,194.06 L125.19,194.64 L125.69,195.23 L126.19,195.81 L126.70,196.39 L127.21,196.96 L127.72,197.53 L128.24,198.10 L128.76,198.66 L129.29,199.23 L129.81,199.79 L130.34,200.34 L130.88,200.90 L131.41,201.45 L131.95,202.00 L132.50,202.55 L133.04,203.09 L133.59,203.64 L134.13,204.18 L134.69,204.72 L135.24,205.26 L135.80,205.79 L136.35,206.33 L136.91,206.86 L137.47,207.39 L138.04,207.92 L138.60,208.45 L139.17,208.97 L139.73,209.50 L140.30,210.02 L140.87,210.55 L141.44,211.07 L142.02,211.59 L142.59,212.11 L143.17,212.63 L143.74,213.15 L144.32,213.67 L144.90,214.18 L145.48,214.70 L146.06,215.21 L146.64,215.72 L147.23,216.23 L147.81,216.74 L148.40,217.25 L148.99,217.75 L149.58,218.26 L150.17,218.76 L150.76,219.25 L151.36,219.75 L151.95,220.25 L152.55,220.74 L153.15,221.23 L153.75,221.72 L154.35,222.20 L154.95,222.68 L155.56,223.16 L156.17,223.64 L156.78,224.12 L157.39,224.59 L158.00,225.06 L158.62,225.52 L159.23,225.99 L159.85,226.45 L160.47,226.90 L161.09,227.36 L161.72,227.81 L162.34,228.25 L162.97,228.70 L163.60,229.14 L164.23,229.57 L164.86,230.01 L165.50,230.44 L166.14,230.86 L166.78,231.28 L167.42,231.70 L168.06,232.12 L168.71,232.53 L169.36,232.93 L170.01,233.33 L170.66,233.73 L171.32,234.12 L171.97,234.51 L172.63,234.90 L173.29,235.27 L173.96,235.65 L174.62,236.02 L175.29,236.39 L175.96,236.75 L176.64,237.10 L177.31,237.45 L177.99,237.80 L178.67,238.14 L179.36,238.47 L180.04,238.80 L180.73,239.13 L181.42,239.45 L182.12,239.76 L182.81,240.07 L183.51,240.38 L184.21,240.67 L184.92,240.96 L185.62,241.25 L186.33,241.53 L187.04,241.81 L187.76,242.08 L188.48,242.34 L189.19,242.60 L189.92,242.85 L190.64,243.10 L191.37,243.34 L192.09,243.58 L192.82,243.82 L193.56,244.05 L194.29,244.27 L195.03,244.49 L195.77,244.70 L196.51,244.91 L197.25,245.12 L197.99,245.32 L198.74,245.52 L199.48,245.71 L200.23,245.90 L200.98,246.09 L201.73,246.27 L202.49,246.45 L203.24,246.62 L204.00,246.79 L204.76,246.95 L205.51,247.12 L206.27,247.28 L207.03,247.43 L207.80,247.59 L208.56,247.74 L209.32,247.88 L210.09,248.02 L210.85,248.17 L211.62,248.30 L212.39,248.44 L213.16,248.57 L213.92,248.70 L214.69,248.83 L215.46,248.95 L216.23,249.07 L217.01,249.19 L217.78,249.31 L218.55,249.42 L219.32,249.54 L220.09,249.65 L220.87,249.76 L221.64,249.86 L222.41,249.97 L223.19,250.07 L223.96,250.17 L224.73,250.27 L225.50,250.37 L226.28,250.47 L227.05,250.57 L227.82,250.66 L228.59,250.76 L229.37,250.85 L230.14,250.94 L230.91,251.03 L231.68,251.12 L232.45,251.21 L233.22,251.30 L233.99,251.39 L234.76,251.47 L235.53,251.56 L236.29,251.64 L237.06,251.73 L237.83,251.81 L238.60,251.89 L239.37,251.97 L240.13,252.05 L240.90,252.13 L241.67,252.21 L242.43,252.29 L243.20,252.36 L243.96,252.44 L244.73,252.51 L245.49,252.59 L246.26,252.66 L247.02,252.73 L247.79,252.80 L248.55,252.88 L249.32,252.94 L250.08,253.01 L250.85,253.08 L251.61,253.15 L252.37,253.22 L253.14,253.28 L253.90,253.35 L254.66,253.41 L255.43,253.47 L256.19,253.54 L256.95,253.60 L257.72,253.66 L258.48,253.72 L259.24,253.78 L260.01,253.84 L260.77,253.89 L261.53,253.95 L262.30,254.01 L263.06,254.06 L263.82,254.12 L264.58,254.17 L265.35,254.22 L266.11,254.28 L266.87,254.33 L267.64,254.38 L268.40,254.43 L269.16,254.48 L269.93,254.53 L270.69,254.58 L271.46,254.63 L272.22,254.67 L272.98,254.72 L273.75,254.77 L274.51,254.81 L275.28,254.85 L276.04,254.90 L276.81,254.94 L277.57,254.98 L278.34,255.03 L279.10,255.07 L279.87,255.11 L280.64,255.15 L281.40,255.19 L282.17,255.23 L282.93,255.26 L283.70,255.30 L284.47,255.34 L285.23,255.37 L286.00,255.41 L286.77,255.45 L287.54,255.48 L288.30,255.51 L289.07,255.55 L289.84,255.58 L290.61,255.61 L291.37,255.65 L292.14,255.68 L292.91,255.71 L293.68,255.74 L294.45,255.77 L295.21,255.80 L295.98,255.83 L296.75,255.86 L297.52,255.88 L298.29,255.91 L299.06,255.94 L299.83,255.97 L300.60,255.99 L301.37,256.02 L302.14,256.04 L302.91,256.07 L303.68,256.09 L304.45,256.12 L305.21,256.14 L305.98,256.17 L306.76,256.19 L307.53,256.21 L308.30,256.23 L309.07,256.26 L309.84,256.28 L310.61,256.30 L311.38,256.32 L312.15,256.34 L312.92,256.36 L313.69,256.38 L314.46,256.40 L315.23,256.42 L316.00,256.44 L316.77,256.46 L317.55,256.47 L318.32,256.49 L319.09,256.51 L319.86,256.53 L320.63,256.55 L321.40,256.56 L322.17,256.58 L322.95,256.60 L323.72,256.61 L324.49,256.63 L325.26,256.64 L326.03,256.66 L326.80,256.67 L327.58,256.69 L328.35,256.70 L329.12,256.72 L329.89,256.73 L330.66,256.75 L331.44,256.76 L332.21,256.78 L332.98,256.79 L333.75,256.80 L334.53,256.82 L335.30,256.83 L336.07,256.85 L336.84,256.86 L337.61,256.87 L338.39,256.88 L339.16,256.90 L339.93,256.91 L340.70,256.92 L341.48,256.94 L342.25,256.95 L343.02,256.96 L343.79,256.97 L344.57,256.99 L345.34,257.00 L346.11,257.01 L346.88,257.02 L347.65,257.03 L348.43,257.05 L349.20,257.06 L349.97,257.07 L350.74,257.08 L351.52,257.10 L352.29,257.11 L353.06,257.12 L353.83,257.13 L354.61,257.14 L355.38,257.16 L356.15,257.17 L356.92,257.18 L357.69,257.19 L358.47,257.21 L359.24,257.22 L360.01,257.23 L360.78,257.24 L361.55,257.26 L362.33,257.27 L363.10,257.28 L363.87,257.30 L364.64,257.31 L365.41,257.32 L366.18,257.34 L366.96,257.35 L367.73,257.36 L368.50,257.38 L369.27,257.39 L370.04,257.40 L370.81,257.42 L371.58,257.43 L372.35,257.45 L373.13,257.46 L373.90,257.48 L374.67,257.49 L375.44,257.51 L376.21,257.53 L376.98,257.54 L377.75,257.56 L378.52,257.57 L379.29,257.59 L380.06,257.61 L380.83,257.62 L381.60,257.64 L382.37,257.66 L383.14,257.68 L383.91,257.70 L384.68,257.71 L385.45,257.73 L386.22,257.75 L386.99,257.77 L387.76,257.79 L388.53,257.81 L389.30,257.83 L390.07,257.85 L390.84,257.87 L391.60,257.90 L392.37,257.92 L393.14,257.94 L393.91,257.96 L394.68,257.99 L395.45,258.01 L396.21,258.03 L396.98,258.06 L397.75,258.08 L398.52,258.11 L399.28,258.13 L400.05,258.16 L400.82,258.18 L401.59,258.21 L402.35,258.24 L403.12,258.27 L403.89,258.29 L404.65,258.32 L405.42,258.35 L406.19,258.38 L406.95,258.41 L407.72,258.44 L408.48,258.47 L409.25,258.50" stroke="#0000ff"/>
<path d="M41.65,234.00 L41.84,233.25 L42.03,232.50 L42.21,231.76 L42.39,231.01 L42.57,230.26 L42.75,229.51 L42.92,228.76 L43.09,228.01 L43.26,227.26 L43.43,226.50 L43.59,225.75 L43.75,225.00 L43.91,224.25 L44.07,223.49 L44.22,222.74 L44.37,221.99 L44.52,221.23 L44.67,220.48 L44.82,219.72 L44.96,218.96 L45.10,218.21 L45.24,217.45 L45.38,216.70 L45.51,215.94 L45.64,215.18 L45.77,214.42 L45.90,213.66 L46.03,212.91 L46.16,212.15 L46.28,211.39 L46.40,210.63 L46.52,209.87 L46.64,209.11 L46.75,208.35 L46.87,207.59 L46.98,206.83 L47.09,206.06 L47.20,205.30 L47.31,204.54 L47.41,203.78 L47.52,203.01 L47.62,202.25 L47.72,201.49 L47.82,200.73 L47.92,199.96 L48.01,199.20 L48.11,198.43 L48.20,197.67 L48.29,196.90 L48.38,196.14 L48.47,195.37 L48.56,194.61 L48.65,193.84 L48.73,193.08 L48.81,192.31 L48.90,191.54 L48.98,190.78 L49.06,190.01 L49.14,189.24 L49.22,188.48 L49.29,187.71 L49.37,186.94 L49.44,186.17 L49.52,185.41 L49.59,184.64 L49.66,183.87 L49.73,183.10 L49.80,182.33 L49.87,181.57 L49.94,180.80 L50.01,180.03 L50.07,179.26 L50.14,178.49 L50.20,177.72 L50.27,176.95 L50.33,176.18 L50.39,175.41 L50.45,174.64 L50.52,173.87 L50.58,173.10 L50.64,172.33 L50.70,171.56 L50.75,170.79 L50.81,170.02 L50.87,169.25 L50.93,168.48 L50.98,167.71 L51.04,166.94 L51.10,166.17 L51.15,165.40 L51.21,164.63 L51.26,163.86 L51.32,163.09 L51.37,162.32 L51.43,161.55 L51.48,160.78 L51.54,160.01 L51.59,159.23 L51.64,158.46 L51.70,157.69 L51.75,156.92 L51.80,156.15 L51.86,155.38 L51.91,154.61 L51.96,153.84 L52.02,153.07 L52.07,152.30 L52.12,151.53 L52.18,150.76 L52.23,149.99 L52.28,149.22 L52.34,148.45 L52.39,147.68 L52.45,146.91 L52.50,146.14 L52.56,145.37 L52.61,144.60 L52.67,143.83 L52.72,143.06 L52.78,142.29 L52.83,141.52 L52.89,140.75 L52.95,139.98 L53.00,139.21 L53.06,138.44 L53.12,137.67 L53.17,136.90 L53.23,136.13 L53.29,135.36 L53.34,134.59 L53.40,133.82 L53.46,133.05 L53.52,132.28 L53.58,131.52 L53.64,130.75 L53.69,129.98 L53.75,129.21 L53.81,128.44 L53.87,127.67 L53.93,126.90 L53.99,126.13 L54.05,125.37 L54.11,124.60 L54.17,123.83 L54.24,123.06 L54.30,122.29 L54.36,121.52 L54.42,120.76 L54.48,119.99 L54.54,119.22 L54.61,118.45 L54.67,117.68 L54.73,116.91 L54.80,116.15 L54.86,115.38 L54.92,114.61 L54.99,113.84 L55.05,113.08 L55.12,112.31 L55.18,111.54 L55.25,110.77 L55.31,110.01 L55.38,109.24 L55.45,108.47 L55.51,107.70 L55.58,106.94 L55.65,106.17 L55.72,105.40 L55.78,104.63 L55.85,103.87 L55.92,103.10 L55.99,102.33 L56.06,101.57 L56.13,100.80 L56.20,100.03 L56.27,99.26 L56.34,98.50 L56.41,97.73 L56.48,96.96 L56.55,96.20 L56.62,95.43 L56.69,94.66 L56.77,93.90 L56.84,93.13 L56.91,92.36 L56.99,91.60 L57.06,90.83 L57.13,90.06 L57.21,89.30 L57.28,88.53 L57.36,87.77 L57.43,87.00 L57.51,86.23 L57.59,85.47 L57.66,84.70 L57.74,83.94 L57.82,83.17 L57.89,82.40 L57.97,81.64 L58.05,80.87 L58.13,80.11 L58.21,79.34 L58.29,78.57 L58.37,77.81 L58.45,77.04 L58.53,76.28 L58.61,75.51 L58.69,74.75 L58.78,73.98 L58.86,73.21 L58.94,72.45 L59.03,71.68 L59.11,70.92 L59.19,70.15 L59.28,69.39 L59.36,68.62 L59.45,67.86 L59.53,67.09 L59.62,66.33 L59.71,65.56 L59.80,64.80 L59.88,64.03 L59.97,63.27 L60.06,62.50 L60.15,61.74 L60.24,60.97 L60.33,60.21 L60.42,59.44 L60.51,58.68 L60.60,57.91 L60.69,57.15 L60.78,56.38 L60.88,55.62 L60.97,54.85 L61.06,54.09 L61.16,53.32 L61.25,52.56 L61.35,51.80 L61.44,51.03 L61.54,50.27 L61.63,49.50 L61.73,48.74 L61.83,47.97 L61.93,47.21 L62.03,46.44 L62.12,45.68 L62.22,44.92 L62.32,44.15 L62.42,43.39 L62.52,42.62 L62.63,41.86 L62.73,41.10 L62.83,40.33 L62.93,39.57 L63.04,38.80 L63.14,38.04 L63.25,37.28 L63.35,36.51 L63.46,35.75 L63.57,34.98 L63.68,34.22 L63.80,33.46 L63.93,32.70 L64.06,31.94 L64.21,31.18 L64.37,30.42 L64.54,29.67 L64.73,28.91 L64.93,28.16 L65.15,27.41 L65.39,26.67 L65.66,25.92 L65.94,25.18 L66.25,24.45 L66.58,23.71 L66.94,22.98 L67.33,22.26 L67.76,21.65 L68.25,21.31 L68.82,21.38 L69.42,21.80 L69.99,22.42 L70.48,23.09 L70.89,23.79 L71.23,24.50 L71.52,25.23 L71.77,25.97 L72.00,26.72 L72.22,27.46 L72.43,28.21 L72.64,28.96 L72.84,29.71 L73.04,30.46 L73.24,31.22 L73.43,31.97 L73.62,32.72 L73.80,33.47 L73.98,34.23 L74.16,34.98 L74.34,35.74 L74.51,36.49 L74.68,37.25 L74.84,38.01 L75.01,38.76 L75.17,39.52 L75.32,40.28 L75.48,41.03 L75.63,41.79 L75.78,42.55 L75.93,43.31 L76.08,44.07 L76.22,44.82 L76.37,45.58 L76.51,46.34 L76.65,47.10 L76.79,47.86 L76.93,48.62 L77.06,49.38 L77.20,50.13 L77.34,50.89 L77.47,51.65 L77.60,52.41 L77.74,53.17 L77.87,53.92 L78.00,54.68 L78.14,55.44 L78.27,56.20 L78.40,56.95 L78.53,57.71 L78.67,58.46 L78.80,59.22 L78.94,59.97 L79.07,60.73 L79.21,61.48 L79.34,62.24 L79.48,62.99 L79.61,63.74 L79.75,64.50 L79.89,65.25 L80.02,66.00 L80.16,66.76 L80.30,67.51 L80.43,68.26 L80.57,69.01 L80.71,69.77 L80.85,70.52 L80.99,71.27 L81.12,72.02 L81.26,72.77 L81.40,73.53 L81.54,74.28 L81.68,75.03 L81.81,75.78 L81.95,76.53 L82.09,77.29 L82.23,78.04 L82.37,78.79 L82.51,79.54 L82.64,80.30 L82.78,81.05 L82.92,81.80 L83.06,82.55 L83.20,83.31 L83.33,84.06 L83.47,84.82 L83.61,85.57 L83.74,86.33 L83.88,87.08 L84.02,87.84 L84.15,88.59 L84.29,89.35 L84.42,90.11 L84.56,90.86 L84.69,91.62 L84.82,92.38 L84.96,93.14 L85.09,93.90 L85.22,94.66 L85.36,95.42 L85.49,96.18 L85.62,96.94 L85.75,97.70 L85.88,98.46 L86.01,99.23 L86.14,99.99 L86.27,100.75 L86.40,101.52 L86.53,102.28 L86.66,103.05 L86.79,103.81 L86.92,104.58 L87.05,105.34 L87.18,106.11 L87.31,106.87 L87.44,107.64 L87.57,108.41 L87.70,109.17 L87.83,109.94 L87.97,110.71 L88.10,111.47 L88.23,112.24 L88.36,113.01 L88.50,113.78 L88.63,114.54 L88.77,115.31 L88.90,116.08 L89.04,116.84 L89.18,117.61 L89.31,118.38 L89.45,119.14 L89.59,119.91 L89.73,120.68 L89.87,121.44 L90.02,122.21 L90.16,122.97 L90.31,123.74 L90.45,124.50 L90.60,125.27 L90.75,126.03 L90.90,126.79 L91.05,127.56 L91.20,128.32 L91.36,129.08 L91.51,129.84 L91.67,130.61 L91.83,131.37 L91.99,132.13 L92.15,132.89 L92.32,133.64 L92.48,134.40 L92.65,135.16 L92.82,135.92 L92.99,136.67 L93.16,137.43 L93.34,138.18 L93.51,138.94 L93.69,139.69 L93.87,140.44 L94.06,141.20 L94.24,141.95 L94.43,142.70 L94.62,143.45 L94.81,144.19 L95.01,144.94 L95.20,145.69 L95.40,146.43 L95.61,147.18 L95.81,147.92 L96.02,148.66 L96.23,149.40 L96.44,150.14 L96.65,150.88 L96.87,151.62 L97.09,152.35 L97.32,153.09 L97.54,153.82 L97.77,154.55 L98.00,155.28 L98.24,156.01 L98.48,156.74 L98.72,157.47 L98.96,158.19 L99.21,158.92 L99.46,159.64 L99.72,160.36 L99.97,161.08 L100.24,161.80 L100.50,162.52 L100.77,163.23 L101.04,163.95 L101.31,164.66 L101.59,165.37 L101.87,166.08 L102.16,166.79 L102.45,167.49 L102.74,168.19 L103.04,168.90 L103.34,169.60 L103.65,170.30 L103.96,170.99 L104.27,171.69 L104.58,172.38 L104.91,173.07 L105.23,173.76 L105.56,174.45 L105.89,175.13 L106.23,175.82 L106.57,176.50 L106.92,177.18 L107.27,177.85 L107.62,178.53 L107.98,179.20 L108.35,179.87 L108.72,180.54 L109.09,181.21 L109.47,181.87 L109.85,182.53 L110.24,183.19 L110.63,183.85 L111.02,184.51 L111.43,185.16 L111.83,185.81 L112.24,186.46 L112.66,187.11 L113.08,187.75 L113.51,188.39 L113.94,189.03 L114.37,189.67 L114.81,190.30 L115.26,190.93 L115.71,191.56 L116.16,192.19 L116.62,192.82 L117.08,193.44 L117.54,194.06 L118.01,194.68 L118.48,195.30 L118.95,195.92 L119.43,196.53 L119.91,197.15 L120.39,197.76 L120.87,198.37 L121.35,198.98 L121.84,199.59 L122.33,200.20 L122.82,200.80 L123.31,201.41 L123.80,202.01 L124.30,202.62 L124.79,203.22 L125.29,203.82 L125.78,204.42 L126.28,205.02 L126.77,205.62 L127.27,206.22 L127.77,206.82 L128.26,207.41 L128.76,208.01 L129.25,208.61 L129.74,209.21 L130.23,209.80 L130.72,210.40 L131.21,210.99 L131.70,211.59 L132.19,212.18 L132.68,212.78 L133.17,213.37 L133.66,213.96 L134.16,214.55 L134.65,215.14 L135.14,215.72 L135.64,216.31 L136.14,216.89 L136.63,217.47 L137.14,218.05 L137.64,218.62 L138.15,219.19 L138.66,219.76 L139.18,220.33 L139.70,220.89 L140.22,221.45 L140.75,222.01 L141.28,222.56 L141.82,223.11 L142.36,223.65 L142.91,224.19 L143.46,224.72 L144.02,225.25 L144.58,225.78 L145.15,226.30 L145.72,226.82 L146.30,227.33 L146.88,227.84 L147.47,228.34 L148.06,228.84 L148.66,229.33 L149.26,229.82 L149.86,230.30 L150.47,230.78 L151.08,231.26 L151.70,231.73 L152.32,232.19 L152.95,232.65 L153.58,233.10 L154.21,233.55 L154.85,233.99 L155.49,234.43 L156.13,234.86 L156.78,235.29 L157.43,235.71 L158.08,236.12 L158.74,236.53 L159.40,236.94 L160.06,237.33 L160.73,237.73 L161.40,238.11 L162.07,238.49 L162.75,238.87 L163.42,239.24 L164.10,239.60 L164.78,239.95 L165.47,240.31 L166.15,240.65 L166.84,240.99 L167.53,241.32 L168.23,241.65 L168.92,241.97 L169.62,242.28 L170.32,242.59 L171.02,242.89 L171.73,243.19 L172.44,243.48 L173.14,243.77 L173.85,244.05 L174.57,244.33 L175.28,244.60 L176.00,244.87 L176.72,245.13 L177.44,245.38 L178.16,245.63 L178.88,245.88 L179.61,246.12 L180.33,246.36 L181.06,246.59 L181.79,246.81 L182.53,247.04 L183.26,247.25 L184.00,247.47 L184.73,247.68 L185.47,247.88 L186.21,248.08 L186.95,248.28 L187.70,248.47 L188.44,248.65 L189.19,248.84 L189.93,249.02 L190.68,249.19 L191.43,249.36 L192.18,249.53 L192.93,249.70 L193.69,249.86 L194.44,250.01 L195.20,250.17 L195.95,250.32 L196.71,250.46 L197.47,250.60 L198.23,250.74 L198.99,250.88 L199.75,251.01 L200.51,251.14 L201.27,251.27 L202.04,251.39 L202.80,251.51 L203.57,251.63 L204.34,251.75 L205.10,251.86 L205.87,251.97 L206.64,252.08 L207.41,252.18 L208.18,252.28 L208.95,252.38 L209.72,252.48 L210.49,252.57 L211.26,252.67 L212.03,252.76 L212.80,252.84 L213.58,252.93 L214.35,253.02 L215.12,253.10 L215.90,253.18 L216.67,253.26 L217.45,253.33 L218.22,253.41 L218.99,253.48 L219.77,253.55 L220.54,253.62 L221.32,253.69 L222.09,253.76 L222.87,253.83 L223.64,253.89 L224.42,253.95 L225.19,254.02 L225.97,254.08 L226.74,254.14 L227.51,254.20 L228.29,254.26 L229.06,254.31 L229.83,254.37 L230.61,254.43 L231.38,254.48 L232.15,254.54 L232.92,254.59 L233.70,254.65 L234.47,254.70 L235.24,254.75 L236.01,254.80 L236.78,254.85 L237.55,254.90 L238.32,254.95 L239.09,255.00 L239.86,255.05 L240.63,255.10 L241.40,255.14 L242.17,255.19 L242.94,255.23 L243.71,255.28 L244.48,255.32 L245.25,255.37 L246.01,255.41 L246.78,255.45 L247.55,255.50 L248.32,255.54 L249.09,255.58 L249.85,255.62 L250.62,255.66 L251.39,255.70 L252.16,255.74 L252.92,255.78 L253.69,255.81 L254.46,255.85 L255.22,255.89 L255.99,255.92 L256.76,255.96 L257.52,256.00 L258.29,256.03 L259.06,256.06 L259.83,256.10 L260.59,256.13 L261.36,256.17 L262.13,256.20 L262.89,256.23 L263.66,256.26 L264.42,256.29 L265.19,256.33 L265.96,256.36 L266.72,256.39 L267.49,256.42 L268.26,256.45 L269.03,256.48 L269.79,256.50 L270.56,256.53 L271.33,256.56 L272.09,256.59 L272.86,256.62 L273.63,256.64 L274.39,256.67 L275.16,256.70 L275.93,256.72 L276.70,256.75 L277.47,256.78 L278.23,256.80 L279.00,256.83 L279.77,256.85 L280.54,256.88 L281.31,256.90 L282.07,256.92 L282.84,256.95 L283.61,256.97 L284.38,256.99 L285.15,257.02 L285.92,257.04 L286.69,257.06 L287.45,257.08 L288.22,257.11 L288.99,257.13 L289.76,257.15 L290.53,257.17 L291.30,257.19 L292.07,257.21 L292.84,257.23 L293.61,257.25 L294.38,257.27 L295.15,257.29 L295.92,257.31 L296.69,257.33 L297.46,257.35 L298.23,257.37 L299.00,257.39 L299.77,257.40 L300.54,257.42 L301.31,257.44 L302.08,257.46 L302.85,257.47 L303.62,257.49 L304.39,257.51 L305.16,257.52 L305.93,257.54 L306.70,257.56 L307.47,257.57 L308.24,257.59 L309.02,257.60 L309.79,257.62 L310.56,257.64 L311.33,257.65 L312.10,257.66 L312.87,257.68 L313.64,257.69 L314.41,257.71 L315.18,257.72 L315.96,257.74 L316.73,257.75 L317.50,257.76 L318.27,257.78 L319.04,257.79 L319.81,257.80 L320.58,257.81 L321.36,257.83 L322.13,257.84 L322.90,257.85 L323.67,257.86 L324.44,257.87 L325.21,257.89 L325.99,257.90 L326.76,257.91 L327.53,257.92 L328.30,257.93 L329.07,257.94 L329.85,257.95 L330.62,257.96 L331.39,257.97 L332.16,257.98 L332.93,257.99 L333.71,258.00 L334.48,258.01 L335.25,258.02 L336.02,258.03 L336.79,258.04 L337.57,258.05 L338.34,258.06 L339.11,258.07 L339.88,258.08 L340.65,258.09 L341.43,258.09 L342.20,258.10 L342.97,258.11 L343.74,258.12 L344.51,258.13 L345.29,258.13 L346.06,258.14 L346.83,258.15 L347.60,258.16 L348.37,258.17 L349.15,258.17 L349.92,258.18 L350.69,258.19 L351.46,258.19 L352.23,258.20 L353.01,258.21 L353.78,258.22 L354.55,258.22 L355.32,258.23 L356.09,258.24 L356.87,258.24 L357.64,258.25 L358.41,258.25 L359.18,258.26 L359.95,258.27 L360.73,258.27 L361.50,258.28 L362.27,258.29 L363.04,258.29 L363.81,258.30 L364.58,258.30 L365.36,258.31 L366.13,258.31 L366.90,258.32 L367.67,258.33 L368.44,258.33 L369.21,258.34 L369.99,258.34 L370.76,258.35 L371.53,258.35 L372.30,258.36 L373.07,258.36 L373.84,258.37 L374.61,258.37 L375.38,258.38 L376.15,258.38 L376.93,258.39 L377.70,258.39 L378.47,258.40 L379.24,258.40 L380.01,258.41 L380.78,258.41 L381.55,258.42 L382.32,258.42 L383.09,258.43 L383.86,258.43 L384.63,258.44 L385.40,258.44 L386.17,258.45 L386.94,258.45 L387.71,258.46 L388.48,258.46 L389.25,258.47 L390.02,258.47 L390.79,258.48 L391.56,258.48 L392.33,258.49 L393.10,258.49 L393.87,258.50 L394.64,258.50 L395.41,258.51 L396.18,258.51 L396.95,258.52 L397.72,258.52 L398.49,258.53 L399.26,258.53 L400.03,258.54 L400.80,258.54 L401.57,258.55 L402.33,258.55 L403.10,258.56 L403.87,258.56 L404.64,258.57 L405.41,258.57 L406.18,258.58 L406.95,258.58 L407.71,258.59 L408.48,258.60 L409.25,258.60" stroke="#bc8f8f"/>
</g>
<g fill="none" stroke="#008b00" stroke-width="1.3"><path d="M90.5,193.5 L66.35,9.2"/><path d="M61.9,15.5 L66.3,9.3 L71.4,14.5" stroke-width="1.3" stroke-linejoin="miter"/></g>
<g stroke="#000" stroke-width="1.45" fill="none">
<rect x="41.65" y="1.3" width="367.6" height="256.9"/>
</g>
<path d="M41.65,258.2 v-7.2 M41.65,1.3 v7.2 M53.90,258.2 v-3.5 M53.90,1.3 v3.5 M66.16,258.2 v-3.5 M66.16,1.3 v3.5 M78.41,258.2 v-3.5 M78.41,1.3 v3.5 M90.66,258.2 v-3.5 M90.66,1.3 v3.5 M102.92,258.2 v-7.2 M102.92,1.3 v7.2 M115.17,258.2 v-3.5 M115.17,1.3 v3.5 M127.42,258.2 v-3.5 M127.42,1.3 v3.5 M139.68,258.2 v-3.5 M139.68,1.3 v3.5 M151.93,258.2 v-3.5 M151.93,1.3 v3.5 M164.18,258.2 v-7.2 M164.18,1.3 v7.2 M176.44,258.2 v-3.5 M176.44,1.3 v3.5 M188.69,258.2 v-3.5 M188.69,1.3 v3.5 M200.94,258.2 v-3.5 M200.94,1.3 v3.5 M213.20,258.2 v-3.5 M213.20,1.3 v3.5 M225.45,258.2 v-7.2 M225.45,1.3 v7.2 M237.70,258.2 v-3.5 M237.70,1.3 v3.5 M249.96,258.2 v-3.5 M249.96,1.3 v3.5 M262.21,258.2 v-3.5 M262.21,1.3 v3.5 M274.46,258.2 v-3.5 M274.46,1.3 v3.5 M286.72,258.2 v-7.2 M286.72,1.3 v7.2 M298.97,258.2 v-3.5 M298.97,1.3 v3.5 M311.22,258.2 v-3.5 M311.22,1.3 v3.5 M323.48,258.2 v-3.5 M323.48,1.3 v3.5 M335.73,258.2 v-3.5 M335.73,1.3 v3.5 M347.98,258.2 v-7.2 M347.98,1.3 v7.2 M360.24,258.2 v-3.5 M360.24,1.3 v3.5 M372.49,258.2 v-3.5 M372.49,1.3 v3.5 M384.74,258.2 v-3.5 M384.74,1.3 v3.5 M397.00,258.2 v-3.5 M397.00,1.3 v3.5 M409.25,258.2 v-7.2 M409.25,1.3 v7.2 M41.65,258.20 h7.2 M409.25,258.20 h-7.2 M41.65,250.17 h3.5 M409.25,250.17 h-3.5 M41.65,242.13 h3.5 M409.25,242.13 h-3.5 M41.65,234.10 h3.5 M409.25,234.10 h-3.5 M41.65,226.07 h3.5 M409.25,226.07 h-3.5 M41.65,218.03 h7.2 M409.25,218.03 h-7.2 M41.65,210.00 h3.5 M409.25,210.00 h-3.5 M41.65,201.97 h3.5 M409.25,201.97 h-3.5 M41.65,193.93 h3.5 M409.25,193.93 h-3.5 M41.65,185.90 h3.5 M409.25,185.90 h-3.5 M41.65,177.87 h7.2 M409.25,177.87 h-7.2 M41.65,169.83 h3.5 M409.25,169.83 h-3.5 M41.65,161.80 h3.5 M409.25,161.80 h-3.5 M41.65,153.77 h3.5 M409.25,153.77 h-3.5 M41.65,145.73 h3.5 M409.25,145.73 h-3.5 M41.65,137.70 h7.2 M409.25,137.70 h-7.2 M41.65,129.67 h3.5 M409.25,129.67 h-3.5 M41.65,121.63 h3.5 M409.25,121.63 h-3.5 M41.65,113.60 h3.5 M409.25,113.60 h-3.5 M41.65,105.57 h3.5 M409.25,105.57 h-3.5 M41.65,97.53 h7.2 M409.25,97.53 h-7.2 M41.65,89.50 h3.5 M409.25,89.50 h-3.5 M41.65,81.47 h3.5 M409.25,81.47 h-3.5 M41.65,73.43 h3.5 M409.25,73.43 h-3.5 M41.65,65.40 h3.5 M409.25,65.40 h-3.5 M41.65,57.37 h7.2 M409.25,57.37 h-7.2 M41.65,49.33 h3.5 M409.25,49.33 h-3.5 M41.65,41.30 h3.5 M409.25,41.30 h-3.5 M41.65,33.27 h3.5 M409.25,33.27 h-3.5 M41.65,25.23 h3.5 M409.25,25.23 h-3.5 M41.65,17.20 h7.2 M409.25,17.20 h-7.2 M41.65,9.17 h3.5 M409.25,9.17 h-3.5" stroke="#000" stroke-width="1.2" fill="none"/>
<g font-size="12.5px">
<text x="41.60" y="271.45" text-anchor="middle">0</text>
<text x="102.87" y="271.45" text-anchor="middle">0.1</text>
<text x="164.13" y="271.45" text-anchor="middle">0.2</text>
<text x="225.40" y="271.45" text-anchor="middle">0.3</text>
<text x="286.67" y="271.45" text-anchor="middle">0.4</text>
<text x="347.93" y="271.45" text-anchor="middle">0.5</text>
<text x="38.1" y="262.70" text-anchor="end">0</text>
<text x="38.1" y="222.53" text-anchor="end">5</text>
<text x="38.1" y="182.37" text-anchor="end">10</text>
<text x="38.1" y="142.20" text-anchor="end">15</text>
<text x="38.1" y="102.03" text-anchor="end">20</text>
<text x="38.1" y="61.87" text-anchor="end">25</text>
<text x="38.1" y="21.70" text-anchor="end">30</text>
</g>
<text transform="translate(211.6,284.8) scale(1,0.84)" font-size="12px">ω</text><text x="224.4" y="284.8" font-size="12px">/ D</text>
<g transform="translate(15.1,157) rotate(-90)" font-size="12px"><text x="0" y="0" textLength="13.9" lengthAdjust="spacingAndGlyphs">Im</text><text x="18.9" y="1.0">χ</text><text x="24.3" y="-7.4" font-size="8.9px" textLength="17.0" lengthAdjust="spacingAndGlyphs">spin</text><text x="24.8" y="7.2" font-size="8.5px">+</text><text x="45.6" y="0">D</text></g>
<text x="102.7" y="32" font-size="20px" textLength="50.7" lengthAdjust="spacingAndGlyphs">metal</text>
<path d="M261,31.50 H289.4" stroke="#000000" stroke-width="1.75" stroke-linecap="round" fill="none"/>
<text x="296.5" y="37.90" font-size="18px">U = 2.0 D</text>
<path d="M261,52.60 H289.4" stroke="#ff0000" stroke-width="1.75" stroke-linecap="round" fill="none"/>
<text x="296.5" y="59.00" font-size="18px">U = 2.2 D</text>
<path d="M261,73.70 H289.4" stroke="#00ff00" stroke-width="1.75" stroke-linecap="round" fill="none"/>
<text x="296.5" y="80.10" font-size="18px">U = 2.3 D</text>
<path d="M261,94.80 H289.4" stroke="#0000ff" stroke-width="1.75" stroke-linecap="round" fill="none"/>
<text x="296.5" y="101.20" font-size="18px">U = 2.4 D</text>
<path d="M261,115.90 H289.4" stroke="#bc8f8f" stroke-width="1.75" stroke-linecap="round" fill="none"/>
<text x="296.5" y="122.30" font-size="18px">U = 2.5 D</text>
</svg></div></body></html>
